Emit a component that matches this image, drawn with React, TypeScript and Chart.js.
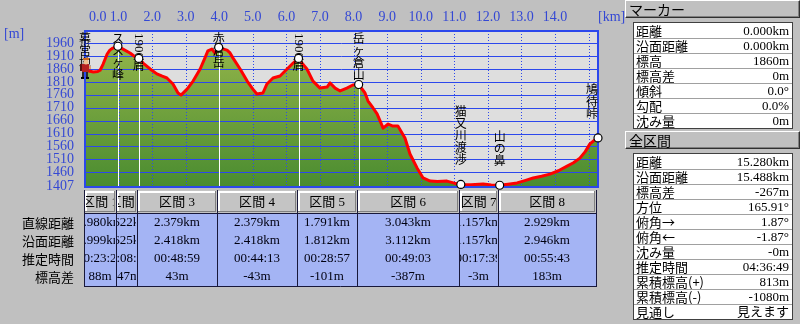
import React, { useEffect, useRef } from 'react';
import { Chart, registerables } from 'chart.js';

Chart.register(...registerables);

// ---- elevation profile (distance km / elevation m) ----
const profileKm = [
  0, 0.12, 0.25, 0.38, 0.45, 0.54, 0.66, 0.74, 0.83, 0.9, 0.98, 1.13, 1.34, 1.46, 1.602,
  1.73, 1.94, 2.14, 2.3, 2.44, 2.62, 2.77, 2.86, 3.04, 3.22, 3.43, 3.57, 3.66, 3.78, 3.87,
  3.981, 4.1, 4.23, 4.32, 4.41, 4.62, 4.83, 5.0, 5.12, 5.3, 5.42, 5.6, 5.81, 6.02, 6.2,
  6.36, 6.46, 6.61, 6.79, 7.0, 7.21, 7.3, 7.45, 7.6, 7.8, 7.98, 8.151, 8.34, 8.43, 8.58,
  8.7, 8.88, 9.03, 9.17, 9.32, 9.53, 9.68, 9.89, 10.07, 10.28, 10.5, 10.78, 11.0, 11.194,
  11.5, 11.86, 12.1, 12.351, 12.6, 12.87, 13.1, 13.35, 13.6, 13.85, 14.1, 14.36, 14.55,
  14.74, 14.9, 15.04, 15.15, 15.28,
];
const profileElev = [
  1860, 1852, 1848, 1850, 1855, 1879, 1918, 1933, 1941, 1944, 1948, 1937, 1922, 1910, 1901,
  1883, 1860, 1841, 1832, 1825, 1802, 1767, 1759, 1782, 1813, 1860, 1902, 1930, 1937, 1922,
  1944, 1938, 1933, 1922, 1902, 1860, 1813, 1782, 1763, 1767, 1802, 1825, 1833, 1860, 1883,
  1901, 1883, 1860, 1813, 1786, 1790, 1806, 1786, 1775, 1786, 1798, 1800, 1767, 1736, 1709,
  1686, 1631, 1647, 1639, 1639, 1593, 1531, 1477, 1438, 1426, 1424, 1426, 1418, 1413,
  1412, 1415, 1411, 1410, 1414, 1419, 1428, 1438, 1445, 1453, 1466, 1484, 1497,
  1515, 1540, 1570, 1582, 1593,
];

// ---- waypoints ----
const waypointKm = [0, 0.98, 1.602, 3.981, 6.36, 8.151, 11.194, 12.351, 15.28];
const waypointElev = [1860, 1948, 1901, 1944, 1901, 1800, 1413, 1410, 1593];
const waypointNames = ['幕営地', 'ススヶ峰', '1900肩', '赤倉岳', '1900肩', '岳ヶ倉山', '猫又川渡渉', '山の鼻', '鳩待峠'];

// ---- axes ----
const yMin = 1407;
const yMax = 2007;
const yTicks = [1407, 1460, 1510, 1560, 1610, 1660, 1710, 1760, 1810, 1860, 1910, 1960];
const xMax = 15.28;
const xTickKm = [0, 1, 2, 3, 4, 5, 6, 7, 8, 9, 10, 11, 12, 13, 14];
const xGridKm = [1, 2, 3, 4, 5, 6, 7, 8, 9, 10, 11, 12, 13, 14, 15];

// ---- section table ----
const sectionNames = ['区間 1', '区間 2', '区間 3', '区間 4', '区間 5', '区間 6', '区間 7', '区間 8'];
const rowLabels = ['直線距離', '沿面距離', '推定時間', '標高差'];
const sectionLineDist = ['0.980km', '0.622km', '2.379km', '2.379km', '1.791km', '3.043km', '1.157km', '2.929km'];
const sectionSurfDist = ['0.999km', '0.625km', '2.418km', '2.418km', '1.812km', '3.112km', '1.157km', '2.946km'];
const sectionTime = ['00:23:24', '00:08:51', '00:48:59', '00:44:13', '00:28:57', '00:49:03', '00:17:39', '00:55:43'];
const sectionElevDiff = ['88m', '-47m', '43m', '-43m', '-101m', '-387m', '-3m', '183m'];

// ---- side panel ----
const markerLabels = ['距離', '沿面距離', '標高', '標高差', '傾斜', '勾配', '沈み量'];
const markerValues = ['0.000km', '0.000km', '1860m', '0m', '0.0°', '0.0%', '0m'];
const totalLabels = ['距離', '沿面距離', '標高差', '方位', '俯角→', '俯角←', '沈み量', '推定時間', '累積標高(+)', '累積標高(-)', '見通し'];
const totalValues = ['15.280km', '15.488km', '-267m', '165.91°', '1.87°', '-1.87°', '-0m', '04:36:49', '813m', '-1080m', '見えます'];

const BLUE_TEXT = '#3448d4';
const GRID_BLUE = '#2c48ec';
const PLOT_BG = '#dedede';
const TABLE_BLUE = '#a4b4f4';
const SERIF = '"Liberation Serif", "Noto Sans CJK JP", serif';
const SANS_JP = '"Noto Sans CJK JP", sans-serif';

const CJK_STEP = 12;

function splitRuns(text: string): string[] {
  return text.match(/[0-9]+|[^0-9]/g) || [];
}

function labelHeight(ctx: CanvasRenderingContext2D, text: string) {
  let h = 0;
  for (const r of splitRuns(text)) {
    if (/^[0-9]+$/.test(r)) {
      ctx.font = '13px ' + SERIF;
      h += ctx.measureText(r).width + 1;
    } else h += CJK_STEP;
  }
  return h;
}

function drawVertical(ctx: CanvasRenderingContext2D, text: string, cx: number, top: number) {
  let y = top;
  for (const r of splitRuns(text)) {
    if (/^[0-9]+$/.test(r)) {
      ctx.save();
      ctx.font = '13px ' + SERIF;
      const w = ctx.measureText(r).width;
      ctx.translate(cx, y);
      ctx.rotate(Math.PI / 2);
      ctx.textAlign = 'left';
      ctx.textBaseline = 'middle';
      ctx.fillText(r, 0, 0);
      ctx.restore();
      y += w + 1;
    } else {
      ctx.font = '12px ' + SANS_JP;
      ctx.textAlign = 'center';
      ctx.textBaseline = 'top';
      ctx.fillText(r, cx, y - 1);
      y += CJK_STEP;
    }
  }
}

function drawHiker(ctx: CanvasRenderingContext2D, cx: number, cy: number) {
  ctx.save();
  ctx.fillStyle = '#2a2a2a';
  ctx.fillRect(cx - 3, cy + 3, 2, 6);
  ctx.fillRect(cx + 1, cy + 3, 2, 6);
  ctx.fillStyle = '#000';
  ctx.fillRect(cx - 4, cy + 8, 3, 2);
  ctx.fillRect(cx + 1, cy + 8, 3, 2);
  ctx.fillStyle = '#5a1010';
  ctx.fillRect(cx - 5, cy - 5, 3, 7);
  ctx.fillStyle = '#b52020';
  ctx.fillRect(cx - 3, cy - 5, 7, 8);
  ctx.fillStyle = '#e0a070';
  ctx.fillRect(cx + 4, cy - 3, 2, 3);
  ctx.fillStyle = '#f0c090';
  ctx.beginPath();
  ctx.arc(cx + 1, cy - 7, 2.5, 0, Math.PI * 2);
  ctx.fill();
  ctx.fillStyle = '#d06a20';
  ctx.fillRect(cx - 2, cy - 11, 6, 2);
  ctx.restore();
}

const profilePlugin = {
  id: 'profileDecor',
  beforeDatasetsDraw(chart: any) {
    const { ctx, chartArea: a } = chart;
    ctx.save();
    ctx.fillStyle = PLOT_BG;
    ctx.fillRect(a.left, a.top, a.right - a.left, a.bottom - a.top);
    ctx.restore();
  },
  afterDatasetDraw(chart: any, args: any) {
    const { ctx, chartArea: a, scales } = chart;
    const x = scales.x;
    const y = scales.y;
    if (args.index === 2) {
      // grid over the fill, below the red line
      ctx.save();
      ctx.beginPath();
      ctx.rect(a.left, a.top, a.right - a.left, a.bottom - a.top);
      ctx.clip();
      ctx.strokeStyle = GRID_BLUE;
      ctx.lineWidth = 1;
      for (const v of yTicks) {
        if (v === yMin) continue;
        const py = Math.round(y.getPixelForValue(v)) + 0.5;
        ctx.beginPath();
        ctx.moveTo(a.left, py);
        ctx.lineTo(a.right, py);
        ctx.stroke();
      }
      ctx.setLineDash([1, 2]);
      for (const k of xGridKm) {
        const px = Math.round(x.getPixelForValue(k)) + 0.5;
        ctx.beginPath();
        ctx.moveTo(px, a.top);
        ctx.lineTo(px, a.bottom);
        ctx.stroke();
      }
      ctx.restore();
    }
    if (args.index === 1) {
      ctx.save();
      // white drop lines
      ctx.strokeStyle = '#ffffff';
      ctx.lineWidth = 1;
      waypointKm.forEach((k, i) => {
        const px = Math.round(x.getPixelForValue(k)) + 0.5;
        const py = y.getPixelForValue(waypointElev[i]);
        ctx.beginPath();
        ctx.moveTo(px, py);
        ctx.lineTo(px, a.bottom);
        ctx.stroke();
      });
      // plot border
      ctx.strokeStyle = GRID_BLUE;
      ctx.lineWidth = 2;
      ctx.strokeRect(a.left, a.top, a.right - a.left, a.bottom - a.top + 1);
      // vertical waypoint names
      ctx.fillStyle = '#000000';
      waypointNames.forEach((name, i) => {
        const px = x.getPixelForValue(waypointKm[i]);
        const py = y.getPixelForValue(waypointElev[i]);
        const h = labelHeight(ctx, name);
        const top = Math.max(a.top + 2, py - 18 - h);
        const cx = Math.min(px, a.right - 6);
        drawVertical(ctx, name, cx, top);
      });
      drawHiker(ctx, x.getPixelForValue(waypointKm[0]), y.getPixelForValue(waypointElev[0]));
      ctx.restore();
    }
  },
  afterDraw(chart: any) {
    const { ctx, chartArea: a, scales } = chart;
    const x = scales.x;
    ctx.save();
    // x labels
    ctx.font = '14px ' + SERIF;
    ctx.fillStyle = BLUE_TEXT;
    ctx.textBaseline = 'middle';
    for (const k of xTickKm) {
      const px = x.getPixelForValue(k);
      if (k === 0) {
        ctx.textAlign = 'left';
        ctx.fillText(k.toFixed(1), a.left + 4, 17);
      } else {
        ctx.textAlign = 'center';
        ctx.fillText(k.toFixed(1), px, 17);
      }
    }

    // section table
    const px = waypointKm.map((k) => Math.round(x.getPixelForValue(k)));
    const b = px.map((p, i) => (i === 0 ? p - 1 : p - 2));
    const hTop = 190;
    const hBot = 213;
    const dBot = 287;
    const rowY = [223, 241, 259, 277];
    const rows = [sectionLineDist, sectionSurfDist, sectionTime, sectionElevDiff];

    ctx.fillStyle = TABLE_BLUE;
    ctx.fillRect(b[0], hBot, b[8] - b[0], dBot - hBot);
    for (let i = 0; i < 8; i++) {
      const l = b[i];
      const r = b[i + 1];
      ctx.fillStyle = '#c4c4c4';
      ctx.fillRect(l, hTop, r - l, hBot - hTop);
      ctx.fillStyle = '#ffffff';
      ctx.fillRect(l + 1, hTop + 1, r - l - 2, 2);
      ctx.fillRect(l + 1, hTop + 1, 2, hBot - hTop - 2);
      ctx.fillStyle = '#808080';
      ctx.fillRect(l + 1, hBot - 2, r - l - 2, 1);
      ctx.fillRect(r - 2, hTop + 1, 1, hBot - hTop - 2);

      ctx.save();
      ctx.beginPath();
      ctx.rect(l + 2, hTop + 1, r - l - 4, hBot - hTop - 2);
      ctx.clip();
      ctx.fillStyle = '#000';
      ctx.font = '13px ' + SERIF;
      ctx.textAlign = 'center';
      ctx.textBaseline = 'middle';
      ctx.fillText(sectionNames[i], (l + r) / 2, (hTop + hBot) / 2 + 1);
      ctx.restore();

      ctx.save();
      ctx.beginPath();
      ctx.rect(l + 1, hBot, r - l - 2, dBot - hBot);
      ctx.clip();
      ctx.fillStyle = '#000010';
      ctx.font = '13px ' + SERIF;
      ctx.textAlign = 'center';
      ctx.textBaseline = 'middle';
      rows.forEach((arr, j) => ctx.fillText(arr[i], (l + r) / 2, rowY[j]));
      ctx.restore();
    }
    ctx.strokeStyle = '#18183a';
    ctx.lineWidth = 1;
    for (const bx of b) {
      ctx.beginPath();
      ctx.moveTo(bx + 0.5, hTop);
      ctx.lineTo(bx + 0.5, dBot);
      ctx.stroke();
    }
    ctx.beginPath();
    ctx.moveTo(b[0], hBot + 0.5);
    ctx.lineTo(b[8], hBot + 0.5);
    ctx.moveTo(b[0], dBot - 0.5);
    ctx.lineTo(b[8] + 1, dBot - 0.5);
    ctx.stroke();

    ctx.fillStyle = '#000';
    ctx.font = '13px ' + SANS_JP;
    ctx.textAlign = 'right';
    ctx.textBaseline = 'middle';
    rowLabels.forEach((t, j) => ctx.fillText(t, 74, rowY[j]));
    ctx.restore();
  },
};

function PanelHeader({ top, text }: { top: number; text: string }) {
  return (
    <div
      style={{
        position: 'absolute',
        left: 625,
        top,
        width: 175,
        height: 18,
        boxSizing: 'border-box',
        background: '#c0c0c0',
        borderTop: '1px solid #ffffff',
        borderLeft: '1px solid #ffffff',
        borderBottom: '1px solid #303030',
        borderRight: '1px solid #303030',
        boxShadow: 'inset -1px -1px 0 #808080',
        font: '14px ' + SANS_JP,
        lineHeight: '16px',
        paddingLeft: 3,
        color: '#000',
        whiteSpace: 'nowrap',
      }}
    >
      {text}
    </div>
  );
}

function PanelTable({ top, labels, values }: { top: number; labels: string[]; values: string[] }) {
  return (
    <div
      style={{
        position: 'absolute',
        left: 633,
        top,
        width: 160,
        border: '1px solid #404040',
        background: '#ffffff',
        boxSizing: 'border-box',
      }}
    >
      {labels.map((l, i) => (
        <div
          key={i}
          style={{
            height: 15,
            boxSizing: 'border-box',
            borderTop: i ? '1px solid #a0a0a0' : 'none',
            display: 'flex',
            justifyContent: 'space-between',
            alignItems: 'center',
            padding: '0 3px 0 2px',
            overflow: 'hidden',
            color: '#000',
          }}
        >
          <span style={{ font: '13px ' + SANS_JP, lineHeight: '14px', whiteSpace: 'nowrap' }}>{l}</span>
          <span style={{ font: '13px ' + SERIF, lineHeight: '14px', whiteSpace: 'nowrap' }}>{values[i]}</span>
        </div>
      ))}
    </div>
  );
}

export default function App() {
  const ref = useRef<HTMLCanvasElement>(null);

  useEffect(() => {
    const canvas = ref.current;
    if (!canvas) return;
    const profile = profileKm.map((k, i) => ({ x: k, y: profileElev[i] }));
    const waypoints = waypointKm.map((k, i) => ({ x: k, y: waypointElev[i] }));
    const chart = new Chart(canvas, {
      type: 'line',
      data: {
        datasets: [
          {
            label: 'waypoints',
            data: waypoints,
            showLine: false,
            pointRadius: (c: any) => (c.dataIndex === 0 ? 0 : 4),
            pointHoverRadius: 0,
            pointBackgroundColor: '#ffffff',
            pointBorderColor: '#000000',
            pointBorderWidth: 1.2,
            clip: false as any,
            order: 1,
          } as any,
          {
            label: 'profile',
            data: profile,
            borderColor: '#ff0000',
            borderWidth: 3,
            pointRadius: 0,
            fill: false,
            borderJoinStyle: 'round',
            borderCapStyle: 'round',
            order: 2,
          },
          {
            label: 'fill',
            data: profile,
            borderColor: 'rgba(0,0,0,0)',
            borderWidth: 0,
            pointRadius: 0,
            fill: 'start',
            backgroundColor: (c: any) => {
              const a = c.chart.chartArea;
              if (!a) return '#6fa040';
              const g = c.chart.ctx.createLinearGradient(0, a.top, 0, a.bottom);
              g.addColorStop(0, '#9ab84c');
              g.addColorStop(1, '#4a8c30');
              return g;
            },
            order: 3,
          },
        ],
      },
      options: {
        responsive: false,
        animation: false,
        devicePixelRatio: 1,
        events: [],
        layout: { padding: { left: 0, right: 12, top: 0, bottom: 138 } },
        scales: {
          x: {
            type: 'linear',
            position: 'top',
            min: 0,
            max: xMax,
            ticks: { display: false, stepSize: 1 },
            grid: { display: false, drawTicks: false },
            border: { display: false },
            afterFit: (s: any) => {
              s.height = 31;
            },
          },
          y: {
            type: 'linear',
            min: yMin,
            max: yMax,
            afterBuildTicks: (s: any) => {
              s.ticks = yTicks.map((v) => ({ value: v }));
            },
            ticks: {
              autoSkip: false,
              padding: 11,
              color: BLUE_TEXT,
              font: { family: '"Liberation Serif", serif', size: 14 },
              callback: (v: any) => String(v),
            },
            grid: { display: false, drawTicks: false },
            border: { display: false },
            afterFit: (s: any) => {
              s.width = 85;
            },
          },
        },
        plugins: { legend: { display: false }, tooltip: { enabled: false } },
      },
      plugins: [profilePlugin],
    } as any);
    return () => chart.destroy();
  }, []);

  return (
    <div
      style={{
        position: 'fixed',
        left: 0,
        top: 0,
        width: 800,
        height: 324,
        background: '#c0c0c0',
        overflow: 'hidden',
      }}
    >
      <canvas ref={ref} width={610} height={324} style={{ position: 'absolute', left: 0, top: 0 }} />
      <div style={{ position: 'absolute', left: 4, top: 26, font: '14px ' + SERIF, color: BLUE_TEXT }}>[m]</div>
      <div style={{ position: 'absolute', left: 598, top: 9, font: '14px ' + SERIF, color: BLUE_TEXT }}>[km]</div>
      <PanelHeader top={0} text="マーカー" />
      <PanelTable top={22} labels={markerLabels} values={markerValues} />
      <PanelHeader top={131} text="全区間" />
      <PanelTable top={153} labels={totalLabels} values={totalValues} />
    </div>
  );
}
